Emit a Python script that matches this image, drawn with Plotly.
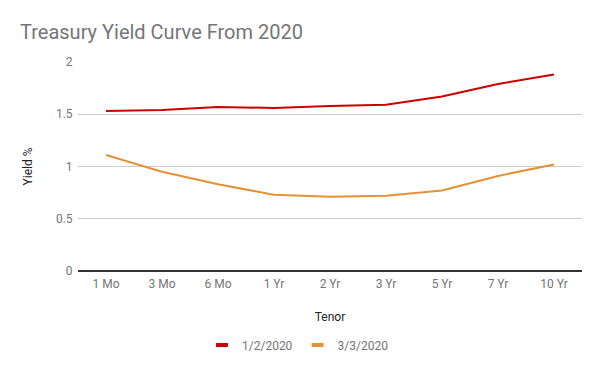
import plotly.graph_objects as go

tenors = ["1 Mo", "3 Mo", "6 Mo", "1 Yr", "2 Yr", "3 Yr", "5 Yr", "7 Yr", "10 Yr"]
yield_jan2 = [1.53, 1.54, 1.57, 1.56, 1.58, 1.59, 1.67, 1.79, 1.88]
yield_mar3 = [1.11, 0.95, 0.83, 0.73, 0.71, 0.72, 0.77, 0.91, 1.02]
series_names = ["1/2/2020", "3/3/2020"]
series_colors = ["#cc0000", "#e69138"]

fig = go.Figure()
for name, vals, col in zip(series_names, [yield_jan2, yield_mar3], series_colors):
    fig.add_trace(go.Scatter(x=tenors, y=vals, mode="lines", name=name,
                             line=dict(color=col, width=2), showlegend=False,
                             hoverinfo="skip"))
    fig.add_trace(go.Scatter(x=[None], y=[None], mode="markers", name=name,
                             marker=dict(symbol="line-ew", size=8.5, color=col,
                                         line=dict(color=col, width=4)),
                             showlegend=True))

fig.update_layout(
    width=600, height=371,
    margin=dict(l=78, r=18, t=62, b=100),
    paper_bgcolor="white", plot_bgcolor="white",
    font=dict(family="Roboto", size=12, color="#757575"),
    title=dict(text="Treasury Yield Curve From 2020", x=20/600, xanchor="left",
               y=1 - 32/371, yanchor="middle",
               font=dict(family="Roboto", size=20, color="#757575")),
    showlegend=True,
    legend=dict(orientation="h", x=(298-78)/504, xanchor="center", y=(271-345)/209, yanchor="middle",
                font=dict(size=12, color="#757575"), traceorder="normal"),
    xaxis=dict(type="category", range=[-0.5, 8.5], showgrid=False, showline=False,
               ticks="outside", ticklen=2, tickcolor="rgba(0,0,0,0)",
               tickfont=dict(size=12, color="#757575"),
               title=dict(text="Tenor", font=dict(size=12, color="#222222"), standoff=22),
               zeroline=False, fixedrange=True),
    yaxis=dict(range=[0, 2], tickvals=[0, 0.5, 1, 1.5, 2], ticktext=["0", "0.5", "1", "1.5", "2"],
               showgrid=True, gridcolor="#cccccc", gridwidth=1,
               zeroline=True, zerolinecolor="#333333", zerolinewidth=1.5,
               ticks="outside", ticklen=2, tickcolor="rgba(0,0,0,0)",
               tickfont=dict(size=12, color="#757575"),
               title=dict(text="Yield %", font=dict(size=12, color="#222222"), standoff=20),
               fixedrange=True),
)

fig.write_html("out.html", config={"displayModeBar": False},
               post_script="document.body.style.margin='0';document.body.style.overflow='hidden';")
